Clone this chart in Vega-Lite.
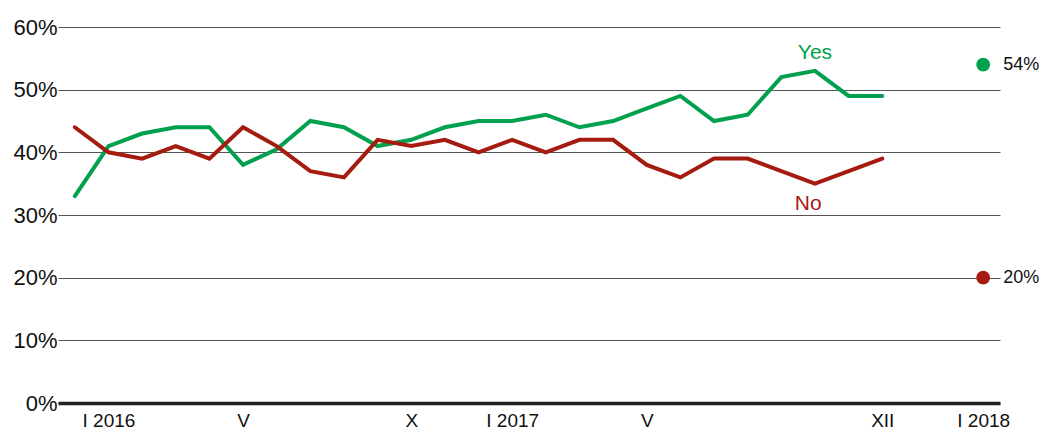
{
  "$schema": "https://vega.github.io/schema/vega-lite/v6.json",
  "width": 942,
  "height": 376,
  "autosize": "none",
  "padding": {"left": 58, "top": 27, "right": 46, "bottom": 24},
  "background": "white",
  "config": {"view": {"stroke": null}, "font": "Liberation Sans"},
  "datasets": {
    "lines": [
      {"t": 0, "series": "Yes", "value": 33}, {"t": 1, "series": "Yes", "value": 41}, {"t": 2, "series": "Yes", "value": 43},
      {"t": 3, "series": "Yes", "value": 44}, {"t": 4, "series": "Yes", "value": 44}, {"t": 5, "series": "Yes", "value": 38},
      {"t": 6, "series": "Yes", "value": 40.5}, {"t": 7, "series": "Yes", "value": 45}, {"t": 8, "series": "Yes", "value": 44},
      {"t": 9, "series": "Yes", "value": 41}, {"t": 10, "series": "Yes", "value": 42}, {"t": 11, "series": "Yes", "value": 44},
      {"t": 12, "series": "Yes", "value": 45}, {"t": 13, "series": "Yes", "value": 45}, {"t": 14, "series": "Yes", "value": 46},
      {"t": 15, "series": "Yes", "value": 44}, {"t": 16, "series": "Yes", "value": 45}, {"t": 17, "series": "Yes", "value": 47},
      {"t": 18, "series": "Yes", "value": 49}, {"t": 19, "series": "Yes", "value": 45}, {"t": 20, "series": "Yes", "value": 46},
      {"t": 21, "series": "Yes", "value": 52}, {"t": 22, "series": "Yes", "value": 53}, {"t": 23, "series": "Yes", "value": 49},
      {"t": 24, "series": "Yes", "value": 49},
      {"t": 0, "series": "No", "value": 44}, {"t": 1, "series": "No", "value": 40}, {"t": 2, "series": "No", "value": 39},
      {"t": 3, "series": "No", "value": 41}, {"t": 4, "series": "No", "value": 39}, {"t": 5, "series": "No", "value": 44},
      {"t": 6, "series": "No", "value": 41}, {"t": 7, "series": "No", "value": 37}, {"t": 8, "series": "No", "value": 36},
      {"t": 9, "series": "No", "value": 42}, {"t": 10, "series": "No", "value": 41}, {"t": 11, "series": "No", "value": 42},
      {"t": 12, "series": "No", "value": 40}, {"t": 13, "series": "No", "value": 42}, {"t": 14, "series": "No", "value": 40},
      {"t": 15, "series": "No", "value": 42}, {"t": 16, "series": "No", "value": 42}, {"t": 17, "series": "No", "value": 38},
      {"t": 18, "series": "No", "value": 36}, {"t": 19, "series": "No", "value": 39}, {"t": 20, "series": "No", "value": 39},
      {"t": 21, "series": "No", "value": 37}, {"t": 22, "series": "No", "value": 35}, {"t": 23, "series": "No", "value": 37},
      {"t": 24, "series": "No", "value": 39}
    ],
    "ends": [
      {"t": 27, "series": "Yes", "value": 54, "label": "54%"},
      {"t": 27, "series": "No", "value": 20, "label": "20%"}
    ],
    "names": [
      {"t": 22, "series": "Yes", "value": 55.8, "label": "Yes"},
      {"t": 21.8, "series": "No", "value": 31.7, "label": "No"}
    ]
  },
  "encoding": {
    "x": {
      "field": "t", "type": "quantitative",
      "scale": {"domain": [-0.5, 27.5], "nice": false, "zero": false},
      "axis": {
        "title": null, "grid": false, "ticks": false,
        "values": [1, 5, 10, 13, 17, 24, 27],
        "labelExpr": "datum.value == 1 ? '\u00a0\u00a0\u00a0I 2016' : datum.value == 5 ? 'V' : datum.value == 10 ? 'X' : datum.value == 13 ? '\u00a0\u00a0\u00a0I 2017' : datum.value == 17 ? 'V' : datum.value == 24 ? 'XII' : '\u00a0\u00a0\u00a0I 2018'",
        "labelFontSize": 19, "labelColor": "#111", "labelPadding": 8,
        "labelBaseline": "top",
        "domainWidth": 3.5, "domainColor": "#222", "labelFlush": false, "labelOverlap": false
      }
    },
    "y": {
      "field": "value", "type": "quantitative",
      "scale": {"domain": [0, 60], "nice": false},
      "axis": {
        "title": null, "domain": false, "ticks": false,
        "values": [0, 10, 20, 30, 40, 50, 60],
        "labelExpr": "datum.value + '%'",
        "labelFontSize": 22, "labelColor": "#111", "labelPadding": 1,
        "gridColor": "#555", "gridWidth": 1, "gridOpacity": 1
      }
    },
    "color": {
      "field": "series", "type": "nominal",
      "scale": {"domain": ["Yes", "No"], "range": ["#00a04e", "#a51b10"]},
      "legend": null
    }
  },
  "layer": [
    {
      "data": {"name": "lines"},
      "mark": {"type": "line", "strokeWidth": 4, "strokeCap": "round"}
    },
    {
      "data": {"name": "ends"},
      "mark": {"type": "circle", "size": 190, "opacity": 1}
    },
    {
      "data": {"name": "ends"},
      "mark": {"type": "text", "align": "left", "baseline": "middle", "dx": 20, "fontSize": 18, "color": "#111"},
      "encoding": {"text": {"field": "label"}, "color": {"value": "#111"}}
    },
    {
      "data": {"name": "names"},
      "mark": {"type": "text", "align": "center", "baseline": "middle", "fontSize": 21},
      "encoding": {"text": {"field": "label"}}
    }
  ]
}
